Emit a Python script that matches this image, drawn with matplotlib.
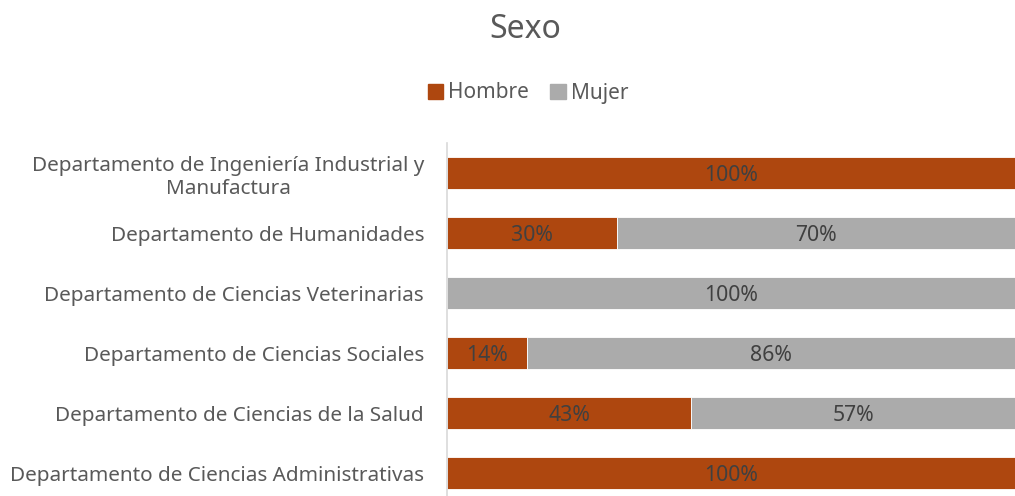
import matplotlib.pyplot as plt
from matplotlib.patches import Patch

plt.rcParams['font.family'] = ['Noto Sans', 'DejaVu Sans']

departamentos = [
    "Departamento de Ciencias Administrativas",
    "Departamento de Ciencias de la Salud",
    "Departamento de Ciencias Sociales",
    "Departamento de Ciencias Veterinarias",
    "Departamento de Humanidades",
    "Departamento de Ingeniería Industrial y\nManufactura",
]
hombre = [100, 43, 14, 0, 30, 100]
mujer = [0, 57, 86, 100, 70, 0]

c_h = '#AE470F'
c_m = '#ABABAB'
txt = '#595959'

fig = plt.figure(figsize=(10.15, 4.96), dpi=100)
ax = fig.add_axes([447 / 1015, -7 / 496, 568 / 1015, 360 / 496])

y = range(len(departamentos))
ax.barh(y, hombre, height=0.52, color=c_h, edgecolor='white', linewidth=0.6)
ax.barh(y, mujer, left=hombre, height=0.52, color=c_m, edgecolor='white', linewidth=0.6)

for i in y:
    if hombre[i] > 0:
        ax.text(hombre[i] / 2, i, f"{hombre[i]}%", ha='center', va='center_baseline',
                fontsize=15.3, color='#404040')
    if mujer[i] > 0:
        ax.text(hombre[i] + mujer[i] / 2, i, f"{mujer[i]}%", ha='center',
                va='center_baseline', fontsize=15.3, color='#404040')

ax.set_xlim(0, 100)
ax.set_ylim(-0.5, len(departamentos) - 0.5)
ax.set_yticks(list(y))
ax.set_yticklabels(departamentos, fontsize=14.9, color=txt, multialignment='center')
ax.tick_params(axis='y', length=0, pad=16.5)
ax.set_xticks([])
for s in ['top', 'right', 'bottom']:
    ax.spines[s].set_visible(False)
ax.spines['left'].set_color('#D9D9D9')
ax.spines['left'].set_linewidth(1.2)

fig.text(525 / 1015, 1 - 30 / 496, "Sexo", ha='center', va='center', fontsize=23, color=txt)
handles = [Patch(color=c_h, label='Hombre'), Patch(color=c_m, label='Mujer')]
fig.legend(handles=handles, loc='center', bbox_to_anchor=(528 / 1015, 1 - 93 / 496),
           ncol=2, frameon=False, fontsize=15, handlelength=0.75, handleheight=0.75,
           handletextpad=0.25, columnspacing=1.0, labelcolor=txt)

fig.savefig('out.png', dpi=100)
